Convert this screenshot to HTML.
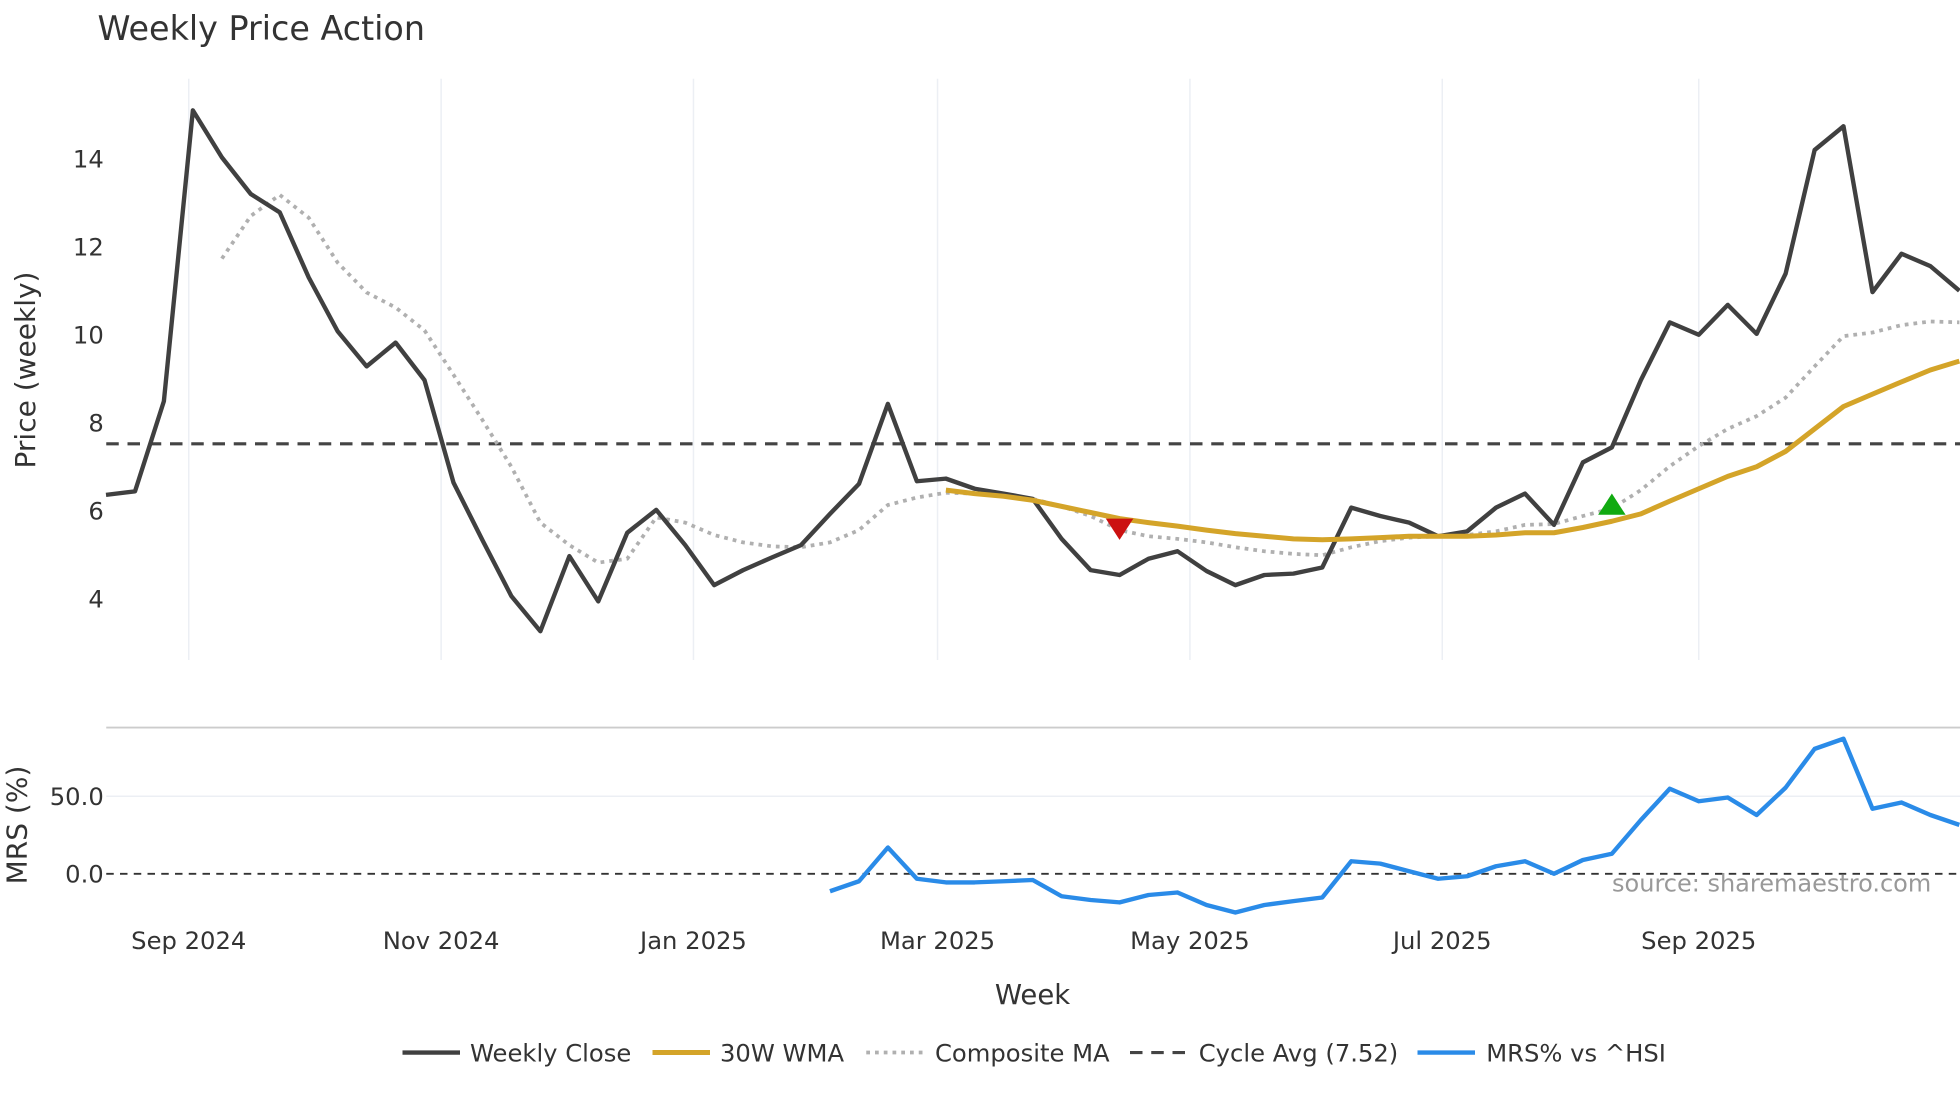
<!DOCTYPE html>
<html><head><meta charset="utf-8"><style>
html,body{margin:0;padding:0;background:#fff;}
svg{display:block;font-family:"DejaVu Sans","Liberation Sans",sans-serif;}
</style></head><body>
<svg id="chart" width="1960" height="1102" viewBox="0 0 1568 881.6" xmlns="http://www.w3.org/2000/svg">
<text x="78" y="32" font-size="26.7" fill="#333">Weekly Price Action</text>
<g id="grid"></g><g id="marks"></g><g id="axes"></g>
<text transform="translate(28,296) rotate(-90)" text-anchor="middle" font-size="22.4" fill="#333">Price (weekly)</text>
<text transform="translate(21,660) rotate(-90)" text-anchor="middle" font-size="22.4" fill="#333">MRS (%)</text>
<text x="826" y="803" text-anchor="middle" font-size="22" fill="#333">Week</text>
<text x="1545" y="713" text-anchor="end" font-size="19.2" fill="#999">source: sharemaestro.com</text>
<g font-size="19.4" fill="#333">
 <g><line x1="322" y1="842" x2="368" y2="842" stroke="#404040" stroke-width="3.5"/><text x="376" y="849">Weekly Close</text></g>
 <g><line x1="522" y1="842" x2="568" y2="842" stroke="#D4A429" stroke-width="4"/><text x="576" y="849">30W WMA</text></g>
 <g><line x1="693" y1="842" x2="739" y2="842" stroke="#b0b0b0" stroke-width="3" stroke-dasharray="3,4"/><text x="748" y="849">Composite MA</text></g>
 <g><line x1="904" y1="842" x2="950" y2="842" stroke="#444" stroke-width="2.5" stroke-dasharray="10,7"/><text x="959" y="849">Cycle Avg (7.52)</text></g>
 <g><line x1="1134" y1="842" x2="1180" y2="842" stroke="#2A8BE8" stroke-width="3.5"/><text x="1189" y="849">MRS% vs ^HSI</text></g>
</g>
</svg>
<script>
const closeVals=[6.36,6.44,8.49,15.1,14.03,13.2,12.78,11.3,10.08,9.28,9.82,8.97,6.64,5.33,4.06,3.26,4.97,3.94,5.5,6.02,5.22,4.31,4.65,4.94,5.22,5.93,6.61,8.43,6.67,6.73,6.5,6.39,6.27,5.36,4.65,4.54,4.91,5.08,4.63,4.31,4.54,4.57,4.71,6.07,5.88,5.73,5.42,5.53,6.07,6.39,5.68,7.1,7.44,8.97,10.28,10.0,10.68,10.02,11.39,14.2,14.74,10.97,11.84,11.56,11.0];
const compositeStart=4;
const compositeVals=[11.73,12.7,13.18,12.66,11.64,10.96,10.62,10.1,9.09,8.06,7.0,5.73,5.22,4.82,4.91,5.85,5.73,5.45,5.28,5.19,5.17,5.28,5.56,6.13,6.3,6.41,6.39,6.36,6.27,6.1,5.88,5.56,5.42,5.36,5.28,5.17,5.08,5.02,4.99,5.17,5.31,5.39,5.42,5.45,5.53,5.68,5.7,5.88,6.05,6.47,7.01,7.47,7.86,8.15,8.57,9.28,9.97,10.05,10.22,10.3,10.28];
const wmaStart=29;
const wmaVals=[6.47,6.39,6.33,6.24,6.1,5.96,5.82,5.73,5.65,5.56,5.48,5.42,5.36,5.34,5.36,5.39,5.42,5.42,5.42,5.45,5.5,5.5,5.62,5.76,5.93,6.22,6.5,6.78,7.0,7.35,7.86,8.37,8.65,8.93,9.2,9.4];
const mrsStart=25;
const mrsVals=[-11.3,-4.8,16.9,-3.2,-5.6,-5.6,-4.8,-4.0,-14.5,-16.9,-18.5,-13.7,-12.1,-20.2,-25,-20.2,-17.7,-15.3,8.1,6.5,1.6,-3.2,-1.6,4.8,8.1,0,8.9,12.9,34.7,54.8,46.8,49.2,37.9,55.6,80.6,87.1,41.9,46,37.9,31.5];
const cycleAvg=7.52;
const sellIdx=[35], buyIdx=[52];
const priceTicks=[4,6,8,10,12,14];
const mrsTicks=[0,50];
const monthTicks=["2024-09-01","2024-11-01","2025-01-01","2025-03-01","2025-05-01","2025-07-01","2025-09-01"];
const monthLabels=["Sep 2024","Nov 2024","Jan 2025","Mar 2025","May 2025","Jul 2025","Sep 2025"];
const startDate="2024-08-12";

const NS="http://www.w3.org/2000/svg";
const DAY=86400000, base=Date.parse("2024-09-01");
const xDate=d=>151+(Date.parse(d)-base)/DAY*(1208/365);
const x0=xDate(startDate);
const xi=i=>x0+i*7*(1208/365);
const yP=v=>127+(14-v)*35.2;
const yM=v=>699-v*1.24;
const L=85,R=1568,PT=63,PB=528,MT=582,MB=737;
function el(t,a,p){const e=document.createElementNS(NS,t);for(const k in a)e.setAttribute(k,a[k]);p.appendChild(e);return e;}
const grid=document.getElementById('grid'),marks=document.getElementById('marks'),axes=document.getElementById('axes');
monthTicks.forEach((d,k)=>{const x=xDate(d);
 const g=el('line',{x1:x,x2:x,y1:PT,y2:PB,stroke:'#eceff4','stroke-width':1.2},grid);
 
 
 const t=el('text',{x:x,y:759,'text-anchor':'middle','font-size':19.4,fill:'#333'},axes);t.textContent=monthLabels[k];
 
 
});
priceTicks.forEach(v=>{const t=el('text',{x:83,y:yP(v)+7,'text-anchor':'end','font-size':19.4,fill:'#333'},axes);t.textContent=v;
 
 });
mrsTicks.forEach(v=>{const t=el('text',{x:83,y:yM(v)+7,'text-anchor':'end','font-size':19.4,fill:'#333'},axes);t.textContent=v.toFixed(1);
 
 
 if(v!==0){const g=el('line',{x1:L,x2:R,y1:yM(v),y2:yM(v),stroke:'#eceff4','stroke-width':1.2},grid);
 
 }});
const mrsTop=el('line',{x1:L,x2:R,y1:MT,y2:MT,stroke:'#ccc','stroke-width':1.5},grid);


const zl=el('line',{x1:L,x2:R,y1:yM(0),y2:yM(0),stroke:'#333','stroke-width':1.5,'stroke-dasharray':'6,5'},marks);


const cy=el('line',{x1:L,x2:R,y1:yP(cycleAvg),y2:yP(cycleAvg),stroke:'#444','stroke-width':2.5,'stroke-dasharray':'10,7'},marks);


function line(vals,start,yf,attrs,name){
 const pts=vals.map((v,k)=>xi(start+k).toFixed(1)+','+yf(v).toFixed(1)).join(' ');
 const p=el('polyline',Object.assign({points:pts,fill:'none','stroke-linejoin':'round'},attrs),marks);
 
 
}
line(compositeVals,compositeStart,yP,{stroke:'#b0b0b0','stroke-width':3,'stroke-dasharray':'3,4'},'composite-ma-line');
line(closeVals,0,yP,{stroke:'#404040','stroke-width':3.5},'weekly-close-line');
line(wmaVals,wmaStart,yP,{stroke:'#D4A429','stroke-width':4},'wma-30w-line');
line(mrsVals,mrsStart,yM,{stroke:'#2A8BE8','stroke-width':3.5},'mrs-line');
sellIdx.forEach(i=>{const x=xi(i),y=yP(wmaVals[i-wmaStart])+8;
 const t=el('polygon',{points:`${x-11},${y-8} ${x+11},${y-8} ${x},${y+9}`,fill:'#CC1111'},marks);
 
 });
buyIdx.forEach(i=>{const x=xi(i),y=yP(compositeVals[i-compositeStart])-3;
 const t=el('polygon',{points:`${x-11},${y+8} ${x+11},${y+8} ${x},${y-9}`,fill:'#11AA11'},marks);
 
 });
</script>
</body></html>
